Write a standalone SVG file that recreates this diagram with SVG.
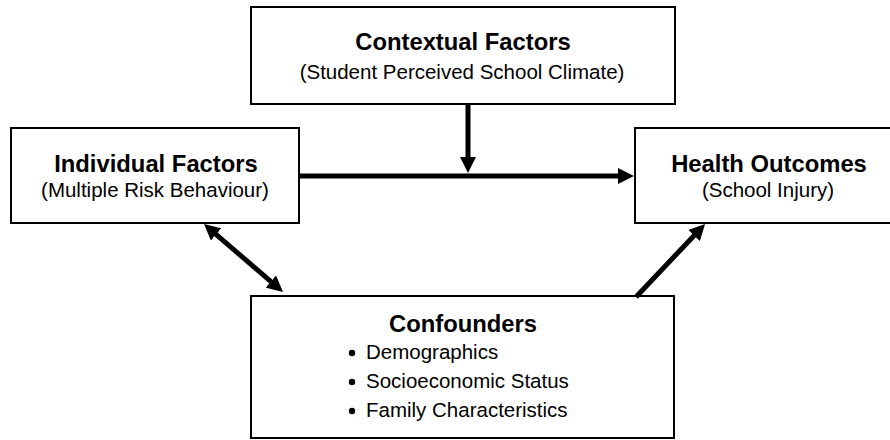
<svg xmlns="http://www.w3.org/2000/svg" width="890" height="440" viewBox="0 0 890 440">
  <style>
    .box { fill: #ffffff; stroke: #000000; stroke-width: 2; }
    .title { font-family: "Liberation Sans", Arial, sans-serif; font-size: 23.8px; font-weight: bold; fill: #000; text-anchor: middle; }
    .sub { font-family: "Liberation Sans", Arial, sans-serif; font-size: 20.5px; fill: #000; text-anchor: middle; }
    .item { font-family: "Liberation Sans", Arial, sans-serif; font-size: 20.5px; fill: #000; }
    .conn { stroke: #000; stroke-width: 5; fill: none; }
  </style>
  <defs>
    <marker id="arrow" viewBox="0 0 16 16" refX="4" refY="8" markerWidth="16" markerHeight="16" markerUnits="userSpaceOnUse" orient="auto-start-reverse">
      <path d="M0,0 L16,8 L0,16 Z" fill="#000"/>
    </marker>
  </defs>
  <rect width="890" height="440" fill="#ffffff"/>

  <g id="contextual">
    <rect class="box" x="251" y="7" width="424" height="97"/>
    <text class="title" x="463" y="50">Contextual Factors</text>
    <text class="sub" x="462" y="79">(Student Perceived School Climate)</text>
  </g>

  <g id="individual">
    <rect class="box" x="11" y="128" width="288" height="95"/>
    <text class="title" x="156" y="172">Individual Factors</text>
    <text class="sub" x="155" y="197">(Multiple Risk Behaviour)</text>
  </g>

  <g id="health">
    <rect class="box" x="635" y="128" width="268" height="95"/>
    <text class="title" x="769" y="172">Health Outcomes</text>
    <text class="sub" x="768" y="197">(School Injury)</text>
  </g>

  <g id="confounders">
    <rect class="box" x="251" y="296" width="423" height="142"/>
    <text class="title" x="463" y="332">Confounders</text>
    <circle cx="352" cy="353" r="3.2" fill="#000"/>
    <text class="item" x="366" y="359">Demographics</text>
    <circle cx="352" cy="382" r="3.2" fill="#000"/>
    <text class="item" x="366" y="388">Socioeconomic Status</text>
    <circle cx="352" cy="411" r="3.2" fill="#000"/>
    <text class="item" x="366" y="417">Family Characteristics</text>
  </g>

  <g id="connectors">
    <line class="conn" x1="299" y1="176" x2="622" y2="176" marker-end="url(#arrow)"/>
    <line class="conn" x1="468" y1="104" x2="468" y2="161" marker-end="url(#arrow)"/>
    <line class="conn" x1="213.1" y1="231.8" x2="273.9" y2="284.2" marker-start="url(#arrow)" marker-end="url(#arrow)"/>
    <line class="conn" x1="636" y1="297" x2="696.8" y2="232.7" marker-end="url(#arrow)"/>
  </g>
</svg>
